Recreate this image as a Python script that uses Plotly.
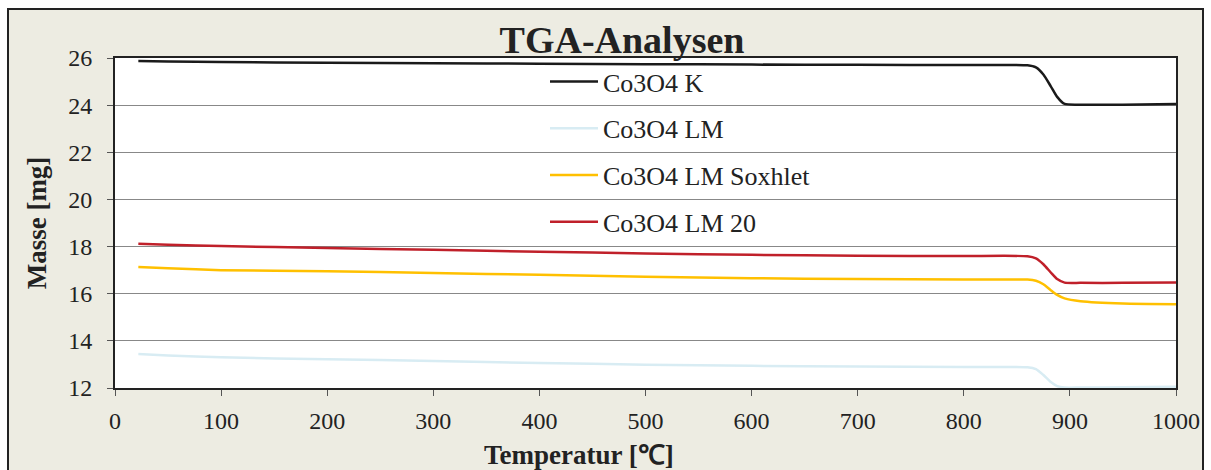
import plotly.graph_objects as go

temperature = [22, 50, 100, 200, 300, 400, 500, 600, 700, 800, 860, 868, 875, 882, 888, 895, 910, 950, 1000]

co3o4_k = [25.87, 25.85, 25.83, 25.80, 25.78, 25.76, 25.74, 25.72, 25.71, 25.70, 25.69, 25.60, 25.30, 24.80, 24.35, 24.05, 24.02, 24.02, 24.05]
co3o4_lm = [13.44, 13.38, 13.30, 13.22, 13.15, 13.06, 12.99, 12.94, 12.91, 12.89, 12.88, 12.80, 12.55, 12.25, 12.08, 12.02, 12.02, 12.03, 12.05]
co3o4_lm_soxhlet = [17.13, 17.08, 17.00, 16.95, 16.88, 16.80, 16.72, 16.66, 16.62, 16.60, 16.60, 16.55, 16.40, 16.15, 15.95, 15.80, 15.68, 15.58, 15.55]
co3o4_lm_20 = [18.12, 18.08, 18.02, 17.94, 17.86, 17.78, 17.71, 17.65, 17.61, 17.60, 17.59, 17.50, 17.25, 16.90, 16.62, 16.47, 16.46, 16.46, 16.48]

series_names = ["Co3O4 K", "Co3O4 LM", "Co3O4 LM Soxhlet", "Co3O4 LM 20"]
series_values = [co3o4_k, co3o4_lm, co3o4_lm_soxhlet, co3o4_lm_20]
series_colors = ["#1a1a1a", "#d8ecf3", "#ffc000", "#c0202a"]

x_ticks = [0, 100, 200, 300, 400, 500, 600, 700, 800, 900, 1000]
y_ticks = [12, 14, 16, 18, 20, 22, 24, 26]

x_title = "Temperatur [℃]"
y_title = "Masse [mg]"
chart_title = "TGA-Analysen"

FONT = "Liberation Serif, Times New Roman, serif"

fig = go.Figure()
for i, (name, vals, col) in enumerate(zip(series_names, series_values, series_colors)):
    fig.add_trace(go.Scatter(
        x=temperature, y=vals, mode="lines", name=name,
        line=dict(color=col, width=2.5, shape="spline", smoothing=0.6),
        legendgroup=f"g{i}",
    ))

L, R, T, B = 115, 35, 58, 82
W, H = 1211, 470
pw = W - L - R
ph = H - T - B

def px_to_paper_x(px):
    return (px - L) / pw

def px_to_paper_y(py):
    return (H - B - py) / ph

# Outer beige frame
fig.add_shape(type="rect", xref="paper", yref="paper", layer="below",
              x0=px_to_paper_x(8), x1=px_to_paper_x(1203),
              y0=px_to_paper_y(480), y1=px_to_paper_y(9),
              fillcolor="#edece2", line=dict(color="#222222", width=2))
# white plot area
fig.add_shape(type="rect", xref="paper", yref="paper", layer="below",
              x0=0, x1=1, y0=0, y1=1,
              fillcolor="white", line=dict(width=0))

# x-axis title (offset left of plot centre, as in the original)
fig.add_annotation(text=f"<b>{x_title}</b>", xref="paper", yref="paper",
                   x=px_to_paper_x(579), y=px_to_paper_y(455),
                   xanchor="center", yanchor="middle", showarrow=False,
                   font=dict(family=FONT, size=27, color="#222222"))

fig.update_layout(
    width=W, height=H,
    margin=dict(l=L, r=R, t=T, b=B),
    paper_bgcolor="white",
    plot_bgcolor="rgba(0,0,0,0)",
    font=dict(family=FONT, color="#222222"),
    title=dict(text=f"<b>{chart_title}</b>", font=dict(family=FONT, size=38, color="#222222"),
               x=622 / W, xref="container", xanchor="center",
               y=1 - 40 / H, yref="container", yanchor="middle"),
    showlegend=True,
    legend=dict(x=px_to_paper_x(545), y=px_to_paper_y(58), xanchor="left", yanchor="top",
                bgcolor="rgba(0,0,0,0)", font=dict(family=FONT, size=26, color="#222222"),
                tracegroupgap=10, itemwidth=48),
    xaxis=dict(range=[0, 1000], tickvals=x_ticks, ticks="outside", ticklen=6,
               tickcolor="#555555", showgrid=False, zeroline=False, automargin=False,
               showline=True, linecolor="#222222", linewidth=2, mirror=True,
               ticklabelstandoff=4,
               tickfont=dict(family=FONT, size=24, color="#222222")),
    yaxis=dict(range=[12, 26], tickvals=y_ticks, ticks="outside", ticklen=6,
               tickcolor="#555555", showgrid=True, gridcolor="#888888", gridwidth=1,
               zeroline=False, automargin=False,
               showline=True, linecolor="#222222", linewidth=2, mirror=True,
               ticklabelstandoff=10,
               tickfont=dict(family=FONT, size=24, color="#222222"),
               title=dict(text=f"<b>{y_title}</b>", font=dict(family=FONT, size=27, color="#222222"), standoff=14)),
)

fig.write_html("out.html")
